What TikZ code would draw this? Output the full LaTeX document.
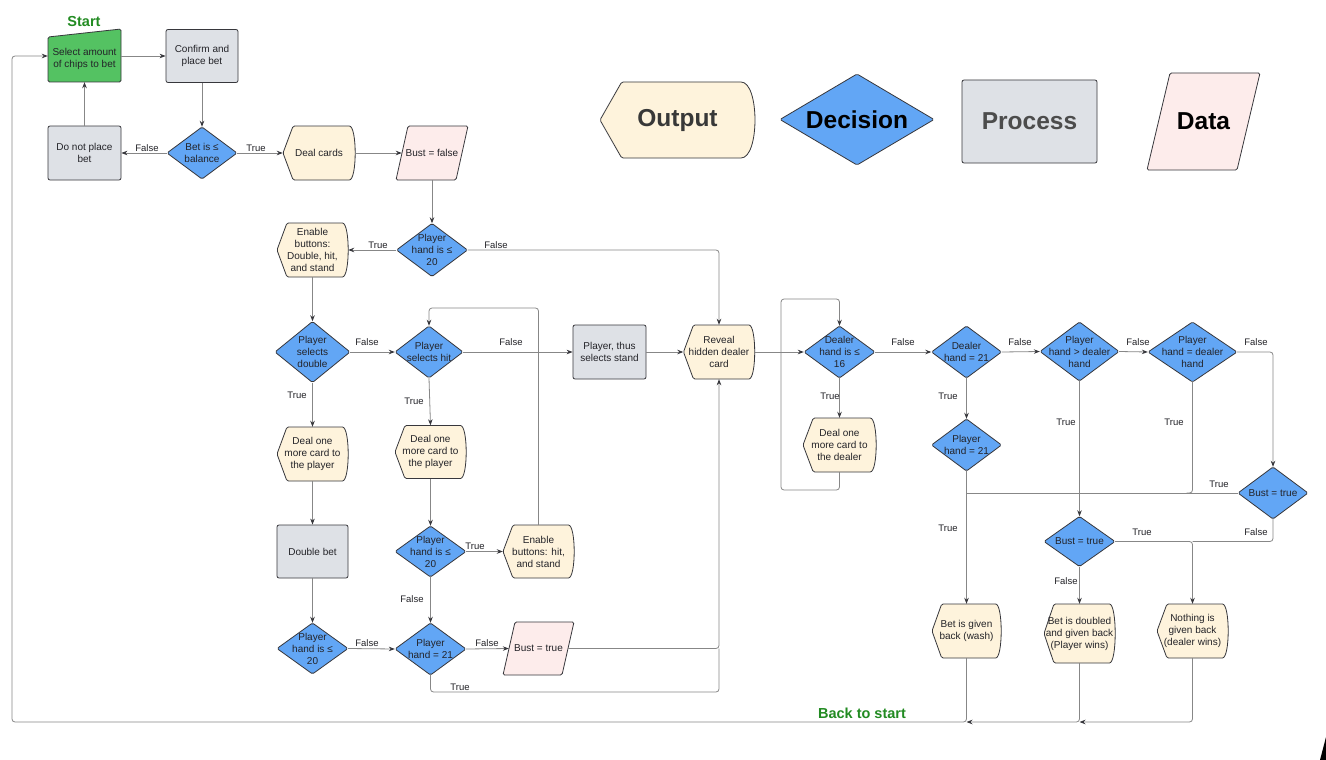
\documentclass[tikz,border=0pt]{standalone}
\usepackage{fontspec}
\setmainfont{Liberation Sans}
\usetikzlibrary{arrows.meta,calc}
\definecolor{outfill}{RGB}{254,243,220}
\definecolor{procfill}{RGB}{222,225,230}
\definecolor{datafill}{RGB}{253,236,235}
\definecolor{decfill}{RGB}{98,166,245}
\definecolor{startfill}{RGB}{84,194,98}
\definecolor{greentext}{RGB}{34,139,34}
\definecolor{edgecol}{RGB}{55,55,60}
\definecolor{linecol}{RGB}{135,135,135}
\definecolor{txtcol}{RGB}{35,35,40}
\tikzset{
  shapeline/.style={draw=edgecol, line width=0.8pt, rounded corners=1.5pt},
  holder/.style={inner sep=0pt, align=center, text=txtcol, font=\fontsize{10}{12}\selectfont},
  procnode/.style={shapeline, fill=procfill, holder, rounded corners=2pt},
  conn/.style={draw=linecol, line width=0.8pt, rounded corners=3pt, -{Stealth[length=6pt,width=4.5pt,color=edgecol]}},
  plainconn/.style={draw=linecol, line width=0.8pt, rounded corners=3pt},
  lbl/.style={text=txtcol, font=\fontsize{9.5}{11}\selectfont, inner sep=1pt},
  greenlbl/.style={text=greentext, font=\fontsize{14.5}{16}\selectfont\bfseries, inner sep=0pt},
}
% output (display) shape: name, x, y, w, h, text
\newcommand{\outshape}[6]{%
  \path[shapeline, fill=outfill] ({#2-#4/2},#3) -- ({#2-#4/2+0.14*#4},{#3-#5/2}) -- ({#2+#4/2-0.1*#4},{#3-#5/2})
    .. controls ({#2+#4/2+0.03*#4},{#3-#5/2}) and ({#2+#4/2+0.03*#4},{#3+#5/2}) .. ({#2+#4/2-0.1*#4},{#3+#5/2})
    -- ({#2-#4/2+0.14*#4},{#3+#5/2}) -- cycle;
  \node[holder, minimum width=#4pt, minimum height=#5pt] (#1) at (#2,#3) {#6};}
% decision shape: name, x, y, w, h, text
\newcommand{\decshape}[6]{%
  \path[shapeline, fill=decfill] ({#2-#4/2},#3) -- (#2,{#3-#5/2}) -- ({#2+#4/2},#3) -- (#2,{#3+#5/2}) -- cycle;
  \node[holder, minimum width=#4pt, minimum height=#5pt] (#1) at (#2,#3) {#6};}
% data shape: name, x, y, w, h, skew, text
\newcommand{\datashape}[7]{%
  \path[shapeline, fill=datafill] ({#2-#4/2},{#3+#5/2}) -- ({#2-#4/2+#6},{#3-#5/2}) -- ({#2+#4/2},{#3-#5/2}) -- ({#2+#4/2-#6},{#3+#5/2}) -- cycle;
  \node[holder, minimum width={(#4-#6)*1pt}, minimum height=#5pt] (#1) at (#2,#3) {#7};}
\begin{document}
\begin{tikzpicture}[x=1pt,y=-1pt]
\useasboundingbox (0,0) rectangle (1326,760);
\fill[white] (0,0) rectangle (1326,760);

% ---------- legend ----------
\outshape{lgout}{677.5}{120}{155}{76}{{\fontsize{24.5}{28}\selectfont\bfseries\color{black!78}Output}}
\decshape{lgdec}{857}{119.5}{154}{91}{{\fontsize{24.5}{28}\selectfont\bfseries\color{black}Decision}}
\node[procnode, minimum width=135pt, minimum height=83pt] (lgproc) at (1029.5,121.5) {{\fontsize{24.5}{28}\selectfont\bfseries\color{black!70}Process}};
\datashape{lgdata}{1203.5}{121.5}{113}{97}{23}{{\fontsize{24.5}{28}\selectfont\bfseries\color{black}Data}}

% ---------- top row ----------
\path[shapeline, fill=startfill] (48,37) -- (121,29) -- (121,82) -- (48,82) -- cycle;
\node[holder, minimum width=73pt, minimum height=52pt] (start) at (84.5,56) {};
\node[holder] (starttext) at (84.5,59) {Select amount\\of chips to bet};
\node[greenlbl] (starttxt) at (84,22) {Start};
\node[procnode, minimum width=72pt, minimum height=53pt] (confirm) at (202,56) {Confirm and\\place bet};
\node[procnode, minimum width=73pt, minimum height=54pt] (noplace) at (84.5,153) {Do not place\\bet};
\decshape{betdec}{202}{153}{70}{52}{Bet is ≤\\balance}
\outshape{deal}{319}{153}{72}{54}{Deal cards}
\datashape{bustf}{432}{153}{72}{54}{12}{Bust = false}

% ---------- player column ----------
\decshape{ph20a}{432}{250}{71}{53}{Player\\hand is ≤\\20}
\outshape{enable1}{312.5}{250}{71}{54}{Enable\\buttons:\\Double, hit,\\and stand}
\decshape{seldouble}{312.5}{352}{75}{61}{Player\\selects\\double}
\decshape{selhit}{429}{352}{68}{52}{Player\\selects hit}
\node[procnode, minimum width=73pt, minimum height=54pt] (stand) at (609.5,352) {Player, thus\\selects stand};
\outshape{reveal}{719}{352}{71}{54}{Reveal\\hidden dealer\\card}
\outshape{deal1}{312.5}{454}{71}{54}{Deal one\\more card to\\the player}
\outshape{deal2}{430.5}{452}{71}{53}{Deal one\\more card to\\the player}
\node[procnode, minimum width=71pt, minimum height=53pt] (doublebet) at (312.5,551.5) {Double bet};
\decshape{ph20b}{430.5}{551.5}{71}{51}{Player\\hand is ≤\\20}
\outshape{enable2}{538.5}{551.5}{71}{53}{Enable\\buttons: hit,\\and stand}
\decshape{ph20c}{312.5}{648.5}{71}{51}{Player\\hand is ≤\\20}
\decshape{ph21a}{430.5}{649}{71}{52}{Player\\hand = 21}
\datashape{bustt}{538.5}{648.5}{71}{53}{12}{Bust = true}

% ---------- dealer part ----------
\decshape{dl16}{839.5}{352}{71}{52}{Dealer\\hand is ≤\\16}
\outshape{dealdealer}{839.5}{445}{73}{54}{Deal one\\more card to\\the dealer}
\decshape{dh21}{966.5}{352}{70}{52}{Dealer\\hand = 21}
\decshape{ph21b}{966.5}{445}{70}{52}{Player\\hand = 21}
\decshape{phgt}{1079.5}{351.5}{79}{59}{Player\\hand > dealer\\hand}
\decshape{pheq}{1192.5}{352}{89}{60}{Player\\hand = dealer\\hand}
\decshape{bustR}{1273}{493}{70}{52}{Bust = true}
\decshape{bustM}{1079.5}{541.5}{71}{50}{Bust = true}
\outshape{wash}{966.5}{631}{69}{54}{Bet is given\\back (wash)}
\outshape{doubled}{1079.5}{633.5}{71}{59}{Bet is doubled\\and given back\\(Player wins)}
\outshape{nothing}{1192.5}{631}{71}{54}{Nothing is\\given back\\(dealer wins)}

% ---------- connectors ----------
\draw[conn] (start.east) -- (confirm.west);
\draw[conn] (confirm.south) -- (betdec.north);
\draw[conn] (betdec.west) -- (noplace.east);
\draw[conn] (betdec.east) -- (deal.west);
\draw[conn] (deal.east) -- (bustf.west);
\draw[conn] (noplace.north) -- (start.south);
\draw[conn] (bustf.south) -- (ph20a.north);
\draw[conn] (ph20a.west) -- (enable1.east);
\draw[conn] (ph20a.east) -| (reveal.north);
\draw[conn] (enable1.south) -- (seldouble.north);
\draw[conn] (seldouble.east) -- (selhit.west);
\draw[conn] (selhit.east) -- (stand.west);
\draw[conn] (stand.east) -- (reveal.west);
\draw[conn] (seldouble.south) -- (deal1.north);
\draw[conn] (selhit.south) -- (deal2.north);
\draw[conn] (deal1.south) -- (doublebet.north);
\draw[conn] (deal2.south) -- (ph20b.north);
\draw[conn] (doublebet.south) -- (ph20c.north);
\draw[conn] (ph20b.east) -- (enable2.west);
\coordinate (hitloop) at (538.5,308);
\draw[conn] (enable2.north) -- (hitloop) -| (selhit.north);
\draw[conn] (ph20b.south) -- (ph21a.north);
\draw[conn] (ph20c.east) -- (ph21a.west);
\draw[conn] (ph21a.east) -- (bustt.west);
\draw[conn] (bustt.east) -| (reveal.south);
\coordinate (truebot) at (719,692);
\draw[plainconn] (ph21a.south) |- (truebot) -- (reveal.south |- bustt.east);
\draw[conn] (reveal.east) -- (dl16.west);
\draw[conn] (dl16.south) -- (dealdealer.north);
\coordinate (dloopB) at (781,490);
\coordinate (dloopT) at (781,299);
\draw[conn] (dealdealer.south) |- (dloopB) -- (dloopT) -| (dl16.north);
\draw[conn] (dl16.east) -- (dh21.west);
\draw[conn] (dh21.east) -- (phgt.west);
\draw[conn] (phgt.east) -- (pheq.west);
\draw[conn] (pheq.east) -| (bustR.north);
\draw[conn] (dh21.south) -- (ph21b.north);
\draw[conn] (ph21b.south) -- (wash.north);
\draw[plainconn] (bustR.west) -- (bustR.west -| wash.north);
\draw[plainconn] (pheq.south) |- ([xshift=-6pt]pheq.south |- bustR.west);
\draw[conn] (phgt.south) -- (bustM.north);
\draw[conn] (bustM.south) -- (doubled.north);
\draw[conn] (bustM.east) -| (nothing.north);
\draw[plainconn] (bustR.south) |- (nothing.north |- bustM.east);
\coordinate (botline) at (12,722);
\draw[conn] (nothing.south) |- (doubled.south |- botline);
\draw[conn] (doubled.south) |- (wash.south |- botline);
\draw[conn] (wash.south) |- (botline) |- (start.west);

% ---------- labels ----------
\node[lbl] (l1) at (147,148) {False};
\node[lbl] (l2) at (256,148) {True};
\node[lbl] (l3) at (378,245) {True};
\node[lbl] (l4) at (496,245) {False};
\node[lbl] (l5) at (367,342) {False};
\node[lbl] (l6) at (511,342) {False};
\node[lbl] (l7) at (297,395) {True};
\node[lbl] (l8) at (414,401) {True};
\node[lbl] (l9) at (475,546) {True};
\node[lbl] (l10) at (412,599) {False};
\node[lbl] (l11) at (367,643) {False};
\node[lbl] (l12) at (487,643) {False};
\node[lbl] (l13) at (460,687) {True};
\node[lbl] (l14) at (903,342) {False};
\node[lbl] (l15) at (830,396) {True};
\node[lbl] (l16) at (1020,342) {False};
\node[lbl] (l17) at (948,396) {True};
\node[lbl] (l18) at (1138,342) {False};
\node[lbl] (l19) at (1256,342) {False};
\node[lbl] (l20) at (1066,422) {True};
\node[lbl] (l21) at (1174,422) {True};
\node[lbl] (l22) at (1219,484) {True};
\node[lbl] (l23) at (948,528) {True};
\node[lbl] (l24) at (1142,532) {True};
\node[lbl] (l25) at (1256,532) {False};
\node[lbl] (l26) at (1066,581) {False};
\node[greenlbl] (backtxt) at (862,713) {Back to start};

% corner mark
\fill[black] (1320,760) -- (1326,737) -- (1326,760) -- cycle;
\end{tikzpicture}
\end{document}
